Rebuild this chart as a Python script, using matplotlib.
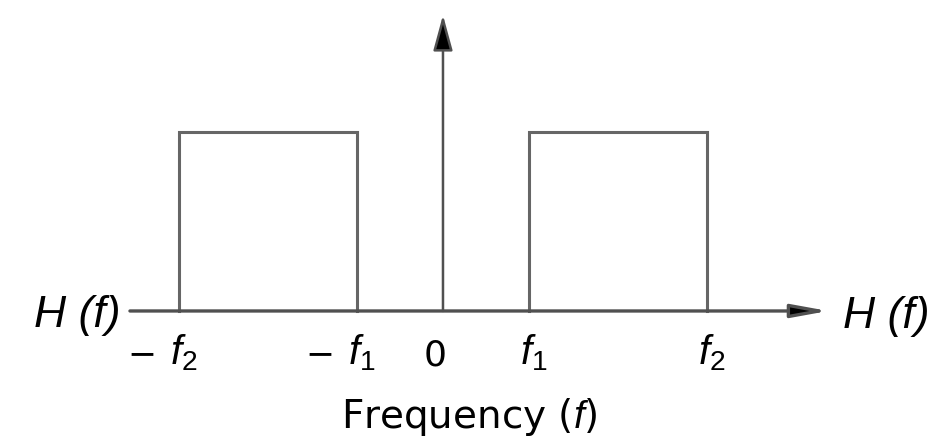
import matplotlib.pyplot as plt

plt.rcParams['font.family'] = ['Liberation Sans', 'DejaVu Sans']
plt.rcParams['mathtext.fontset'] = 'custom'
plt.rcParams['mathtext.rm'] = 'Liberation Sans'
plt.rcParams['mathtext.it'] = 'Liberation Sans:italic'

# band-pass filter: passbands between f1 and f2 (both sides)
f1 = 1.0
f2 = 3.07
gain = 1.0
tick_pos = [-f2, -f1, 0, f1, f2]
tick_labels = [r'$f_2$', r'$f_1$', '0', r'$f_1$', r'$f_2$']
tick_signs = ['\u2212', '\u2212', '', '', '']

fig = plt.figure(figsize=(9.41, 4.44), dpi=100)
ax = fig.add_axes([0, 0, 1, 1])
ax.set_xlim(-5.151, 5.791)
ax.set_ylim(-0.743, 1.737)
ax.axis('off')

rect_color = '#666666'
axis_color = '#505050'

# passband rectangles
for lo, hi in [(-f2, -f1), (f1, f2)]:
    ax.plot([lo, lo, hi, hi], [0, gain, gain, 0], color=rect_color, lw=2.2,
            solid_joinstyle='miter')

# frequency axis with arrow
ax.annotate('', xy=(4.48, 0), xytext=(-3.64, 0),
            arrowprops=dict(arrowstyle='-|>,head_length=1.1,head_width=0.2',
                            mutation_scale=20, lw=2.4, color=axis_color,
                            fc='black', shrinkA=0, shrinkB=0))
# vertical axis with arrow
ax.annotate('', xy=(0, 1.653), xytext=(0, 0),
            arrowprops=dict(arrowstyle='-|>,head_length=1.1,head_width=0.3',
                            mutation_scale=20, lw=1.8, color=axis_color,
                            fc='black', shrinkA=0, shrinkB=0))

# tick labels under the axis
for x, lab, sign in zip(tick_pos, tick_labels, tick_signs):
    if lab == '0':
        ax.text(x - 0.09, -0.302, lab, ha='center', va='baseline', fontsize=26,
                family='DejaVu Sans')
    else:
        ax.text(x + 0.05, -0.296, lab, ha='center', va='baseline', fontsize=29)
    if sign:
        ax.text(x - 0.43, -0.296, sign, ha='center', va='baseline', fontsize=25,
                family='DejaVu Sans')

ax.text(-3.75, -0.09, 'H (f)', ha='right', va='baseline', fontsize=32, style='italic')
ax.text(4.65, -0.095, 'H (f)', ha='left', va='baseline', fontsize=32, style='italic')
ax.text(0.31, -0.654, r'Frequency ($f$)', ha='center', va='baseline', fontsize=28,
        family='DejaVu Sans')

fig.savefig('out.png', dpi=100)
